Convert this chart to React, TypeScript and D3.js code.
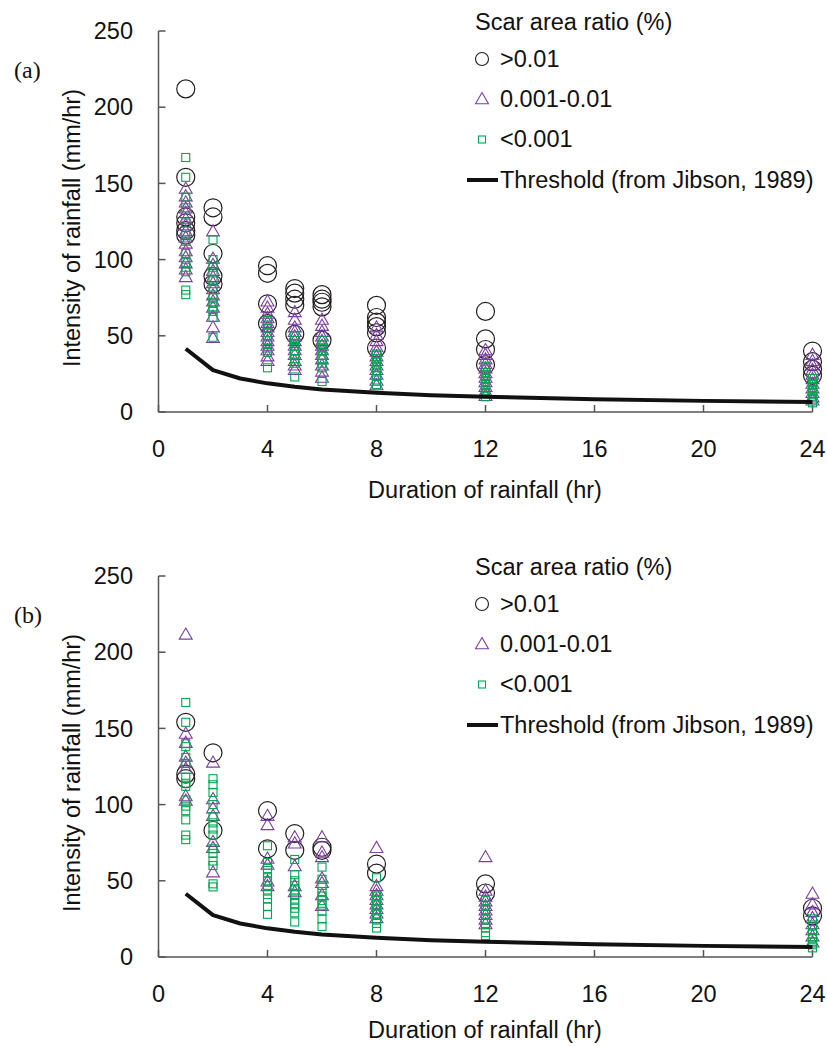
import React from "react";
import * as d3 from "d3";

const durations = [1, 2, 4, 5, 6, 8, 12, 24];
const xTicks = [0, 4, 8, 12, 16, 20, 24];
const yTicks = [0, 50, 100, 150, 200, 250];

const thresholdDur = [1, 2, 3, 4, 5, 6, 8, 10, 12, 16, 20, 24];
const thresholdVal = [41.5, 27.5, 22, 18.8, 16.5, 14.8, 12.7, 11, 10, 8.3, 7.3, 6.6];

// Panel (a)
const aHigh = [
  [212, 154, 128, 124, 119, 116],
  [134, 128, 104, 89, 84],
  [96, 91, 71, 58],
  [81, 78, 74, 70, 51],
  [77, 74, 72, 69, 47],
  [70, 62, 59, 56, 52, 42],
  [66, 48, 41, 31],
  [40, 33, 28, 24],
];
const aMid = [
  [146, 141, 137, 133, 130, 126, 122, 118, 114, 110, 105, 101, 97, 93, 88],
  [118, 100, 96, 92, 88, 84, 80, 76, 72, 68, 62, 55, 48],
  [72, 68, 64, 61, 58, 55, 52, 49, 46, 43, 40, 36, 33],
  [65, 60, 55, 52, 49, 46, 43, 40, 37, 33, 30, 27],
  [60, 56, 52, 49, 46, 43, 40, 37, 34, 30, 26, 22],
  [55, 50, 46, 42, 39, 36, 33, 30, 27, 24, 20, 17],
  [40, 37, 34, 31, 28, 25, 22, 19, 16, 13, 10],
  [37, 33, 30, 27, 24, 21, 18, 15, 12, 9, 7],
];
const aLow = [
  [167, 154, 141, 134, 124, 116, 112, 104, 98, 95, 92, 80, 77],
  [113, 100, 95, 92, 86, 82, 75, 72, 69, 66, 62, 49],
  [60, 57, 55, 52, 50, 47, 45, 42, 39, 29],
  [50, 47, 45, 43, 40, 38, 35, 32, 23],
  [47, 44, 42, 40, 37, 35, 32, 29, 20],
  [38, 35, 33, 31, 29, 27, 24, 21, 18],
  [30, 28, 26, 24, 22, 20, 18, 16, 14, 12, 10],
  [22, 20, 18, 16, 14, 12, 10, 8, 6],
];

// Panel (b)
const bHigh = [
  [154, 120, 117],
  [134, 83],
  [96, 71],
  [81, 70],
  [72, 70],
  [61, 55],
  [48, 42],
  [32, 27],
];
const bMid = [
  [211, 146, 140, 131, 127, 123, 105, 102],
  [127, 103, 97, 92, 75, 71, 55],
  [92, 86, 64, 60, 49, 46],
  [78, 74, 59, 46, 42],
  [78, 68, 65, 51, 48, 40, 33],
  [71, 46, 43, 40, 37, 34, 31, 28, 25],
  [65, 43, 39, 36, 33, 30, 27, 24, 21],
  [41, 34, 29, 25, 21, 17, 13, 9],
];
const bLow = [
  [167, 154, 140, 138, 131, 127, 118, 114, 112, 103, 99, 96, 90, 80, 77],
  [117, 113, 108, 100, 92, 88, 84, 80, 71, 68, 63, 60, 48, 46],
  [73, 62, 58, 55, 52, 50, 47, 44, 41, 38, 33, 28],
  [64, 54, 50, 47, 44, 41, 38, 35, 32, 29, 23],
  [59, 51, 47, 43, 40, 37, 34, 30, 25, 20],
  [52, 40, 37, 34, 31, 28, 25, 22, 19],
  [37, 34, 31, 28, 25, 22, 19, 16, 14],
  [25, 21, 18, 15, 12, 10, 8, 6],
];

const legendLabels = [">0.01", "0.001-0.01", "<0.001"];

const FONT = "'Liberation Sans', Arial, sans-serif";
const C_HIGH = "#231f20";
const C_MID = "#7b3fa0";
const C_LOW = "#00a651";
const AXIS = "#555";

const triPath = d3.symbol(d3.symbolTriangle).size(72)()!;
const triLegend = d3.symbol(d3.symbolTriangle).size(72)()!;

function flatten(groups: number[][]) {
  const out: { d: number; v: number }[] = [];
  groups.forEach((g, i) => g.forEach((v) => out.push({ d: durations[i], v })));
  return out;
}

function Panel({ dy, label, high, mid, low, titleY }: { dy: number; label: string; high: number[][]; mid: number[][]; low: number[][]; titleY: number }) {
  const x = d3.scaleLinear().domain([0, 24]).range([158.5, 812.5]);
  const y = d3.scaleLinear().domain([0, 250]).range([412, 31]);
  const line = d3
    .line<number>()
    .x((_, i) => x(thresholdDur[i]))
    .y((v) => y(v));
  const hi = flatten(high);
  const mi = flatten(mid);
  const lo = flatten(low);
  return (
    <g transform={`translate(0,${dy})`} fontFamily={FONT}>
      <text x={14} y={78} fontFamily="'Liberation Serif', 'Times New Roman', serif" fontSize={24} fill="#111">
        {label}
      </text>
      {/* axes */}
      <line x1={x(0)} x2={x(0)} y1={y(250)} y2={y(0)} stroke={AXIS} strokeWidth={1.5} />
      <line x1={x(0)} x2={x(24)} y1={y(0)} y2={y(0)} stroke={AXIS} strokeWidth={1.5} />
      {yTicks.map((t) => (
        <g key={"y" + t}>
          <line x1={x(0)} x2={x(0) + 7} y1={y(t)} y2={y(t)} stroke={AXIS} strokeWidth={1.5} />
          <text x={133} y={y(t)} dy="0.35em" textAnchor="end" fontSize={23.5} fill="#111">
            {t}
          </text>
        </g>
      ))}
      {xTicks.map((t) => (
        <g key={"x" + t}>
          <line x1={x(t)} x2={x(t)} y1={y(0)} y2={y(0) - 7} stroke={AXIS} strokeWidth={1.5} />
          <text x={x(t)} y={457} textAnchor="middle" fontSize={23.5} fill="#111">
            {t}
          </text>
        </g>
      ))}
      <text x={485} y={titleY} textAnchor="middle" fontSize={23.5} fill="#111">
        Duration of rainfall (hr)
      </text>
      <text transform="translate(80,228) rotate(-90)" textAnchor="middle" fontSize={23.5} fill="#111">
        Intensity of rainfall (mm/hr)
      </text>
      {/* data */}
      {hi.map((p, i) => (
        <circle key={"h" + i} cx={x(p.d)} cy={y(p.v)} r={9} fill="none" stroke={C_HIGH} strokeWidth={1.2} />
      ))}
      {mi.map((p, i) => (
        <path key={"m" + i} d={triPath} transform={`translate(${x(p.d)},${y(p.v)})`} fill="none" stroke={C_MID} strokeWidth={1.1} />
      ))}
      {lo.map((p, i) => (
        <rect key={"l" + i} x={x(p.d) - 4} y={y(p.v) - 4} width={8} height={8} fill="none" stroke={C_LOW} strokeWidth={1.1} />
      ))}
      <path d={line(thresholdVal)!} fill="none" stroke="#111" strokeWidth={4} strokeLinejoin="round" />
      {/* legend */}
      <text x={475} y={30} fontSize={23.5} fill="#111">
        Scar area ratio (%)
      </text>
      <circle cx={482} cy={59} r={6.5} fill="none" stroke={C_HIGH} strokeWidth={1.1} />
      <text x={500} y={67} fontSize={23.5} fill="#111">{legendLabels[0]}</text>
      <path d={triLegend} transform="translate(482,100)" fill="none" stroke={C_MID} strokeWidth={1.1} />
      <text x={500} y={107} fontSize={23.5} fill="#111">{legendLabels[1]}</text>
      <rect x={478.5} y={136} width={7} height={7} fill="none" stroke={C_LOW} strokeWidth={1.1} />
      <text x={500} y={147} fontSize={23.5} fill="#111">{legendLabels[2]}</text>
      <line x1={467} x2={498} y1={180} y2={180} stroke="#111" strokeWidth={4} />
      <text x={500} y={188} fontSize={23.5} fill="#111">Threshold (from Jibson, 1989)</text>
    </g>
  );
}

export default function App() {
  return (
    <svg width={827} height={1046} style={{ position: "absolute", left: 0, top: 0, background: "#fff" }}>
      <rect width={827} height={1046} fill="#fff" />
      <Panel dy={0} label="(a)" high={aHigh} mid={aMid} low={aLow} titleY={498} />
      <Panel dy={545} label="(b)" high={bHigh} mid={bMid} low={bLow} titleY={493} />
    </svg>
  );
}
